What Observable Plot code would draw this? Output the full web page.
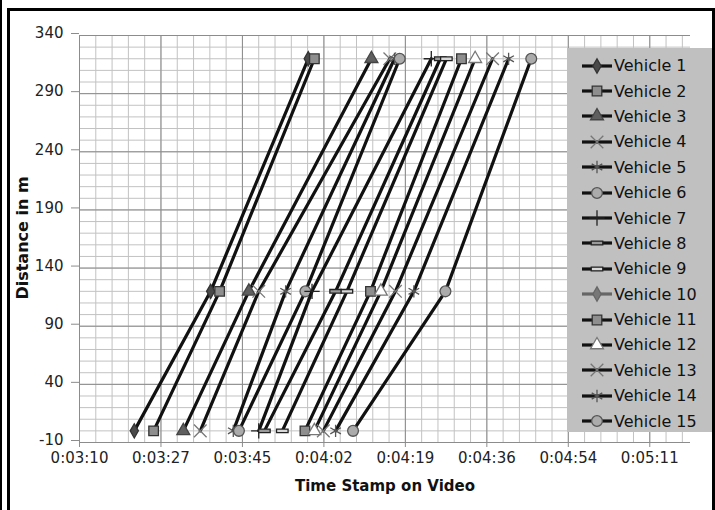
<!DOCTYPE html>
<html><head><meta charset="utf-8">
<script src="https://cdn.jsdelivr.net/npm/d3@7"></script>
<script src="https://cdn.jsdelivr.net/npm/@observablehq/plot@0.6"></script>
<style>
body{margin:0;background:#fff;font-family:"DejaVu Sans",sans-serif;}
#wrap{position:relative;width:715px;height:510px;overflow:hidden;background:#fff;}
#chart{position:absolute;left:0;top:0;}
#chart svg{font-family:"DejaVu Sans",sans-serif;}
.frame{position:absolute;left:7px;top:8px;width:702px;height:700px;border:3px solid #000;box-sizing:content-box;pointer-events:none;}
.edge{position:absolute;left:0;top:0;width:2px;height:510px;background:#000;}
#legend{position:absolute;left:567px;top:48px;width:148px;height:384px;background:#c0c0c0;padding-top:5px;box-sizing:border-box;}
.row{height:25.4px;display:flex;align-items:center;font-size:16px;color:#111;white-space:nowrap;}
.row svg{margin-left:14px;margin-right:1px;flex:none;}
.xlabel{position:absolute;left:0;width:770px;top:477px;text-align:center;font-weight:bold;font-size:15px;color:#111;}
.ylabel{position:absolute;left:22px;top:238px;transform:translate(-50%,-50%) rotate(-90deg);font-weight:bold;font-size:16px;color:#111;white-space:nowrap;}
</style></head><body>
<div id="wrap">
  <div id="chart"></div>
  <div id="legend"></div>
  <div class="xlabel">Time Stamp on Video</div>
  <div class="ylabel">Distance in m</div>
  <div class="edge"></div>
  <div class="frame"></div>
</div>
<script>
// ---- data (times in seconds of video) ----
const vehicles = ["Vehicle 1","Vehicle 2","Vehicle 3","Vehicle 4","Vehicle 5","Vehicle 6","Vehicle 7","Vehicle 8","Vehicle 9","Vehicle 10","Vehicle 11","Vehicle 12","Vehicle 13","Vehicle 14","Vehicle 15"];
const distances = [0, 120, 320];
const timeAt0   = [201.7, 205.8, 212.1, 215.7, 222.7, 223.9, 228.1, 229.3, 233.1, null, 237.9, 239.9, 241.8, 244.4, 248.1];
const timeAt120 = [217.9, 219.8, 226.0, 228.1, 233.8, 238.0, 239.4, 244.4, 246.8, null, 251.8, 254.0, 257.1, 261.0, 267.7];
const timeAt320 = [238.6, 239.9, 252.0, 255.9, 256.9, 258.0, 264.7, 266.6, 267.9, null, 271.1, 274.0, 277.7, 281.1, 285.9];
const xTickLabels = ["0:03:10","0:03:27","0:03:45","0:04:02","0:04:19","0:04:36","0:04:54","0:05:11"];
const yTickValues = [-10, 40, 90, 140, 190, 240, 290, 340];

// ---- axis setup (Excel time axis: min 0.0022 d, max 0.0037 d, major 0.0002 d, minor 0.00004 d) ----
const DAY = 86400;
const xMin = 0.0022 * DAY, xMax = 0.0037 * DAY, xMajor = 0.0002 * DAY, xMinorStep = 0.00004 * DAY;
const xMajorTicks = xTickLabels.map((_, i) => xMin + i * xMajor);
const xMinorTicks = d3.range(xMin, xMax + 1e-6, xMinorStep);
const yMinorTicks = d3.range(-10, 341, 10);

const dash = {draw(ctx, size){ const w = Math.sqrt(size) * 1.25, h = w * 0.32; ctx.rect(-w/2, -h/2, w, h); }};
const styles = [
  {sym: d3.symbolDiamond,  fill: "#4a4a4a", stroke: "#333", r: 4.3, line: "#111"},
  {sym: d3.symbolSquare,   fill: "#8e8e8e", stroke: "#333", r: 5.4, line: "#111"},
  {sym: d3.symbolTriangle, fill: "#5f5f5f", stroke: "#444", r: 4.8, line: "#111"},
  {sym: d3.symbolTimes,    fill: "none",    stroke: "#777", r: 5.8, line: "#111"},
  {sym: d3.symbolAsterisk, fill: "none",    stroke: "#555", r: 5.8, line: "#111"},
  {sym: d3.symbolCircle,   fill: "#ababab", stroke: "#555", r: 5.4, line: "#111"},
  {sym: d3.symbolPlus,     fill: "none",    stroke: "#222", r: 5.0, line: "#111"},
  {sym: dash,              fill: "#9a9a9a", stroke: "#222", r: 5.2, line: "#111"},
  {sym: dash,              fill: "#d8d8d8", stroke: "#222", r: 5.2, line: "#111"},
  {sym: d3.symbolDiamond,  fill: "#777",    stroke: "#666", r: 4.3, line: "#666"},
  {sym: d3.symbolSquare,   fill: "#8e8e8e", stroke: "#333", r: 5.4, line: "#111"},
  {sym: d3.symbolTriangle, fill: "#fff",    stroke: "#777", r: 4.8, line: "#111"},
  {sym: d3.symbolTimes,    fill: "none",    stroke: "#777", r: 5.8, line: "#111"},
  {sym: d3.symbolAsterisk, fill: "none",    stroke: "#555", r: 5.8, line: "#111"},
  {sym: d3.symbolCircle,   fill: "#ababab", stroke: "#555", r: 5.4, line: "#111"}
];

const series = vehicles.map((v, i) => [timeAt0[i], timeAt120[i], timeAt320[i]]
  .map((t, k) => ({vehicle: v, t, d: distances[k]})).filter(p => p.t != null));

const seriesMarks = series.flatMap((pts, i) => {
  const s = styles[i];
  return [
    Plot.line(pts, {x: "t", y: "d", stroke: s.line, strokeWidth: 3.2}),
    Plot.dot(pts, {x: "t", y: "d", symbol: s.sym, r: s.r, fill: s.fill, stroke: s.stroke, strokeWidth: 1.3})
  ];
});

const chart = Plot.plot({
  width: 715, height: 510,
  marginLeft: 79, marginRight: 25, marginTop: 35, marginBottom: 68,
  x: {domain: [xMin, xMax], axis: null},
  y: {domain: [-10, 340], axis: null},
  style: {background: "transparent"},
  marks: [
    Plot.ruleX(xMinorTicks, {stroke: "#c2c2c2", strokeWidth: 1}),
    Plot.ruleY(yMinorTicks, {stroke: "#c2c2c2", strokeWidth: 1}),
    Plot.ruleX(xMajorTicks, {stroke: "#8c8c8c", strokeWidth: 1}),
    Plot.ruleY(yTickValues, {stroke: "#8c8c8c", strokeWidth: 1}),
    Plot.axisX(xMajorTicks, {tickFormat: (d, i) => xTickLabels[i], tickSize: 5, tickPadding: 5, stroke: "#8c8c8c", fontSize: 15, fill: "#222", label: null}),
    Plot.axisY(yTickValues, {tickFormat: d => String(d), tickSize: 8, tickPadding: 8, dy: -2, stroke: "#8c8c8c", fontSize: 15, fill: "#222", label: null}),
    ...seriesMarks
  ]
});
document.getElementById("chart").appendChild(chart);

// ---- legend ----
const legend = d3.select("#legend");
vehicles.forEach((v, i) => {
  const s = styles[i];
  const row = legend.append("div").attr("class", "row");
  const svg = row.append("svg").attr("width", 32).attr("height", 20);
  svg.append("line").attr("x1", 1).attr("x2", 31).attr("y1", 10).attr("y2", 10)
    .attr("stroke", s.line).attr("stroke-width", 3.2);
  svg.append("path").attr("transform", "translate(16,10)")
    .attr("d", d3.symbol(s.sym, s.r * s.r * Math.PI)())
    .attr("fill", s.fill).attr("stroke", s.stroke).attr("stroke-width", 1.3);
  row.append("span").text(v);
});
</script>
</body></html>
